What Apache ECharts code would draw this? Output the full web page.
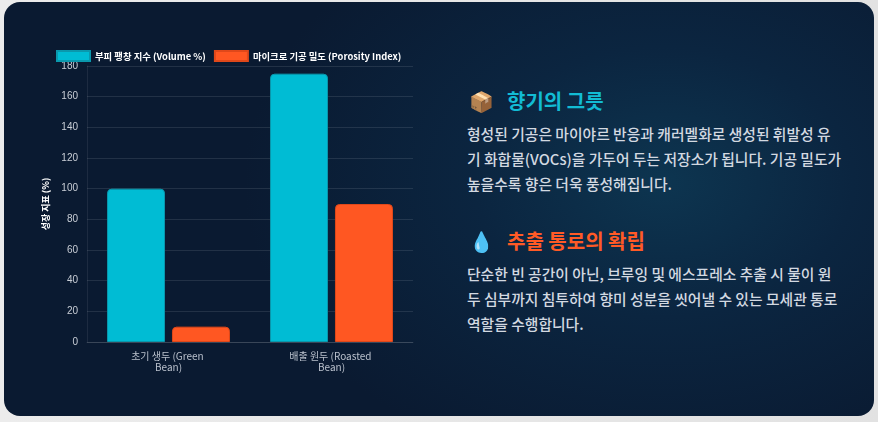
<!DOCTYPE html>
<html><head><meta charset="utf-8">
<script src="https://cdn.jsdelivr.net/npm/echarts@6/dist/echarts.min.js"></script>
<style>
html,body{margin:0;padding:0;width:878px;height:422px;overflow:hidden;background:linear-gradient(90deg,#ececec,#e2e2e2);}
#card{position:absolute;left:4px;top:2px;width:870px;height:414px;border-radius:16px;overflow:hidden;
background:radial-gradient(ellipse 420px 300px at 660px 180px,#0d3550 0%,#0b2540 45%,#0a1a31 100%);}
#chart{position:absolute;left:16px;top:38px;width:430px;height:342px;}
#text{position:absolute;left:463px;top:80px;width:400px;font-family:"Noto Sans CJK KR","Noto Sans",sans-serif;}
.h{display:flex;align-items:center;font-size:20px;font-weight:bold;height:36px;}
.h .ic{width:38px;padding-left:2px;font-size:20px;}
.p{color:#d3d9e1;font-size:14.8px;font-weight:500;line-height:25px;margin:2.5px 0 0 0;white-space:nowrap;}
</style></head><body>
<div id="card">
<div id="chart"></div>
<div id="text">
 <div class="h" style="color:#12bcd4"><span class="ic">📦</span>향기의 그릇</div>
 <div class="p">형성된 기공은 마이야르 반응과 캐러멜화로 생성된 휘발성 유<br>기 화합물(VOCs)을 가두어 두는 저장소가 됩니다. 기공 밀도가<br>높을수록 향은 더욱 풍성해집니다.</div>
 <div class="h" style="color:#ff5a26;margin-top:27px"><span class="ic">💧</span>추출 통로의 확립</div>
 <div class="p">단순한 빈 공간이 아닌, 브루잉 및 에스프레소 추출 시 물이 원<br>두 심부까지 침투하여 향미 성분을 씻어낼 수 있는 모세관 통로<br>역할을 수행합니다.</div>
</div>
</div>
<script>
const categories = ['초기 생두 (Green Bean)', '배출 원두 (Roasted Bean)'];
const volumeName = '부피 팽창 지수 (Volume %)';
const porosityName = '마이크로 기공 밀도 (Porosity Index)';
const volumeValues = [100, 175];
const porosityValues = [10, 90];
const yAxisName = '성장 지표 (%)';

const font = '"Liberation Sans","Noto Sans CJK KR",sans-serif';
const chart = echarts.init(document.getElementById('chart'));
chart.setOption({
  animation:false,
  textStyle:{fontFamily:font},
  legend:{top:5,left:31,itemWidth:33,itemHeight:10,itemGap:8,icon:'rect',
    textStyle:{color:'#ffffff',fontSize:9.35,fontWeight:'bold',fontFamily:'"Noto Sans CJK KR",sans-serif'},
    data:[volumeName,porosityName]},
  grid:{left:67,right:37,top:26,bottom:40},
  xAxis:{type:'category',data:categories,
    axisLine:{show:true,lineStyle:{color:'rgba(255,255,255,0.1)'}},
    axisTick:{show:false},
    splitLine:{show:false},
    axisLabel:{color:'#b9c0cc',fontSize:10,lineHeight:11,width:92,overflow:'break',margin:9,
      fontFamily:'"Noto Sans CJK KR",sans-serif'}},
  yAxis:{type:'value',min:0,max:180,interval:20,name:yAxisName,nameLocation:'middle',nameGap:28,
    nameTextStyle:{color:'#ffffff',fontSize:9,fontWeight:'bold',fontFamily:'"Noto Sans CJK KR",sans-serif'},
    axisLine:{show:true,lineStyle:{color:'rgba(255,255,255,0.08)'}},
    axisTick:{show:false},
    splitLine:{lineStyle:{color:'rgba(255,255,255,0.1)'}},
    axisLabel:{color:'#c9ced6',fontSize:10,margin:9}},
  series:[
    {name:volumeName,type:'bar',data:volumeValues,barWidth:58,barGap:'12%',
     itemStyle:{color:'#00bcd4',borderColor:'#0a98ad',borderWidth:1,borderRadius:[4,4,0,0]}},
    {name:porosityName,type:'bar',data:porosityValues,barWidth:58,
     itemStyle:{color:'#ff5722',borderColor:'#e0481a',borderWidth:1,borderRadius:[4,4,0,0]}}
  ]
});
</script>
</body></html>
